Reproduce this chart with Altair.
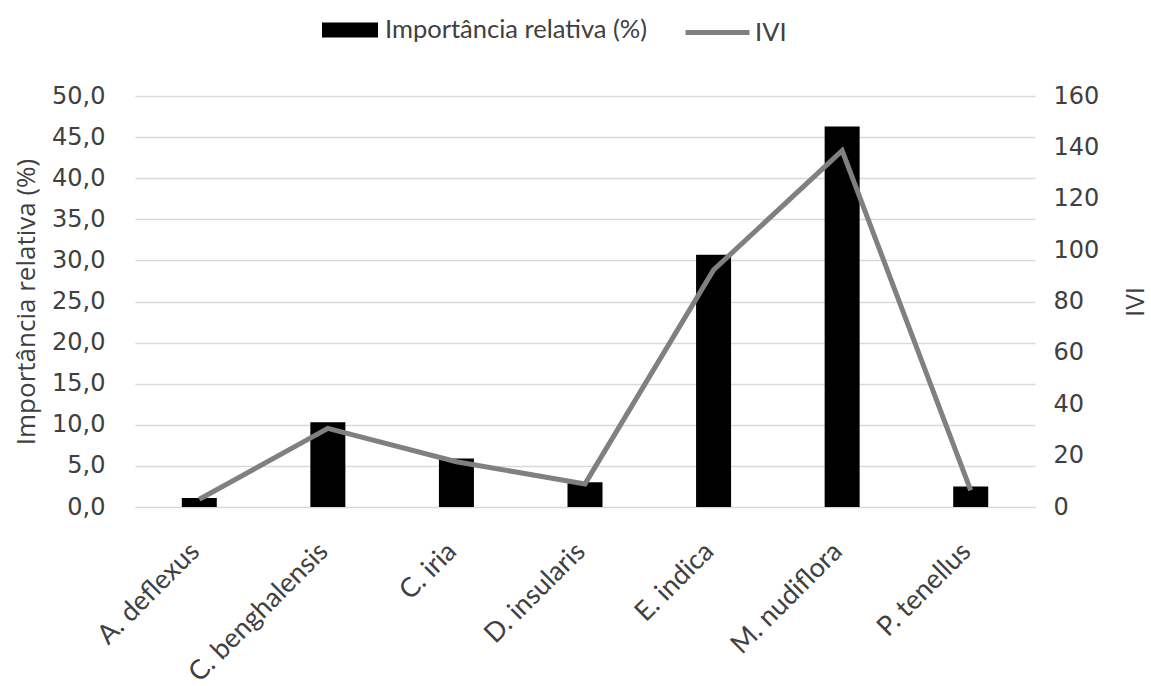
import altair as alt
import pandas as pd

# Species and the two measured series
species = ["A. deflexus", "C. benghalensis", "C. iria", "D. insularis",
           "E. indica", "M. nudiflora", "P. tenellus"]
importancia = [1.1, 10.3, 5.9, 3.0, 30.7, 46.3, 2.5]
ivi = [3.0, 30.6, 17.6, 9.0, 92.3, 138.7, 6.5]

BAR_LABEL = "Importância relativa (%)"
LINE_LABEL = "IVI"

df = pd.DataFrame({"especie": species, "imp": importancia, "ivi": ivi})

FONT = "Lato"
NUM_FONT = "DejaVu Sans"
TITLE_FONT = "Open Sans"
TXT = "#404040"
GRAY = "#808080"

x_enc = alt.X(
    "especie:N",
    sort=species,
    scale=alt.Scale(paddingInner=0, paddingOuter=0),
    axis=alt.Axis(
        title=None, labelAngle=-45, labelFontSize=27, labelFont=FONT,
        labelColor=TXT, labelAlign="right", labelBaseline="middle",
        labelPadding=40, labelOffset=-4, ticks=False, domainColor="#d9d9d9",
        grid=False, labelLimit=400,
    ),
)

legend_common = dict(
    title=None, orient="none", direction="horizontal",
    labelFontSize=25.5, labelFont=FONT, labelColor=TXT, labelLimit=500,
)

bars = alt.Chart(df).mark_bar(width=35).encode(
    x=x_enc,
    y=alt.Y(
        "imp:Q",
        scale=alt.Scale(domain=[0, 50], nice=False),
        axis=alt.Axis(
            title=BAR_LABEL, values=list(range(0, 51, 5)),
            labelExpr="replace(format(datum.value, '.1f'), '.', ',')",
            labelFontSize=24, labelFont=NUM_FONT, labelColor=TXT, labelPadding=30,
            titleFontSize=26, titleFont=TITLE_FONT, titleColor=TXT,
            titleFontWeight="normal", titlePadding=12,
            ticks=False, domain=False, grid=True, gridColor="#d9d9d9",
            gridWidth=1.5,
        ),
    ),
    fill=alt.Fill(
        "serie:N",
        scale=alt.Scale(domain=[BAR_LABEL], range=["black"]),
        legend=alt.Legend(
            legendX=187, legendY=-94, labelOffset=7,
            symbolSize=3136, symbolType="M-1,-0.27H1V0.27H-1Z",
            symbolStrokeWidth=0, **legend_common,
        ),
    ),
).transform_calculate(serie=f"'{BAR_LABEL}'")

line = alt.Chart(df).mark_line(strokeWidth=5).encode(
    x=x_enc,
    y=alt.Y(
        "ivi:Q",
        scale=alt.Scale(domain=[0, 160], nice=False),
        axis=alt.Axis(
            title=LINE_LABEL, orient="right", values=list(range(0, 161, 20)),
            labelFontSize=24, labelFont=NUM_FONT, labelColor=TXT, labelPadding=18,
            titleFontSize=26, titleFont=TITLE_FONT, titleColor=TXT,
            titleFontWeight="normal", titleAngle=270, titlePadding=50,
            ticks=False, domain=False, grid=False,
        ),
    ),
    stroke=alt.Stroke(
        "serie:N",
        scale=alt.Scale(domain=[LINE_LABEL], range=[GRAY]),
        legend=alt.Legend(
            legendX=548, legendY=-98, labelOffset=3,
            symbolSize=4096, symbolType="M-1,0H1",
            symbolStrokeWidth=5, **legend_common,
        ),
    ),
).transform_calculate(serie=f"'{LINE_LABEL}'")

chart = (
    alt.layer(bars, line)
    .resolve_scale(y="independent")
    .properties(
        width=900, height=411,
        autosize=alt.AutoSizeParams(type="none"),
        padding={"left": 135, "top": 96, "right": 116, "bottom": 179},
        background="white",
    )
    .configure_view(stroke=None)
)

chart.save("out.html", embed_options={"renderer": "svg", "actions": False})
